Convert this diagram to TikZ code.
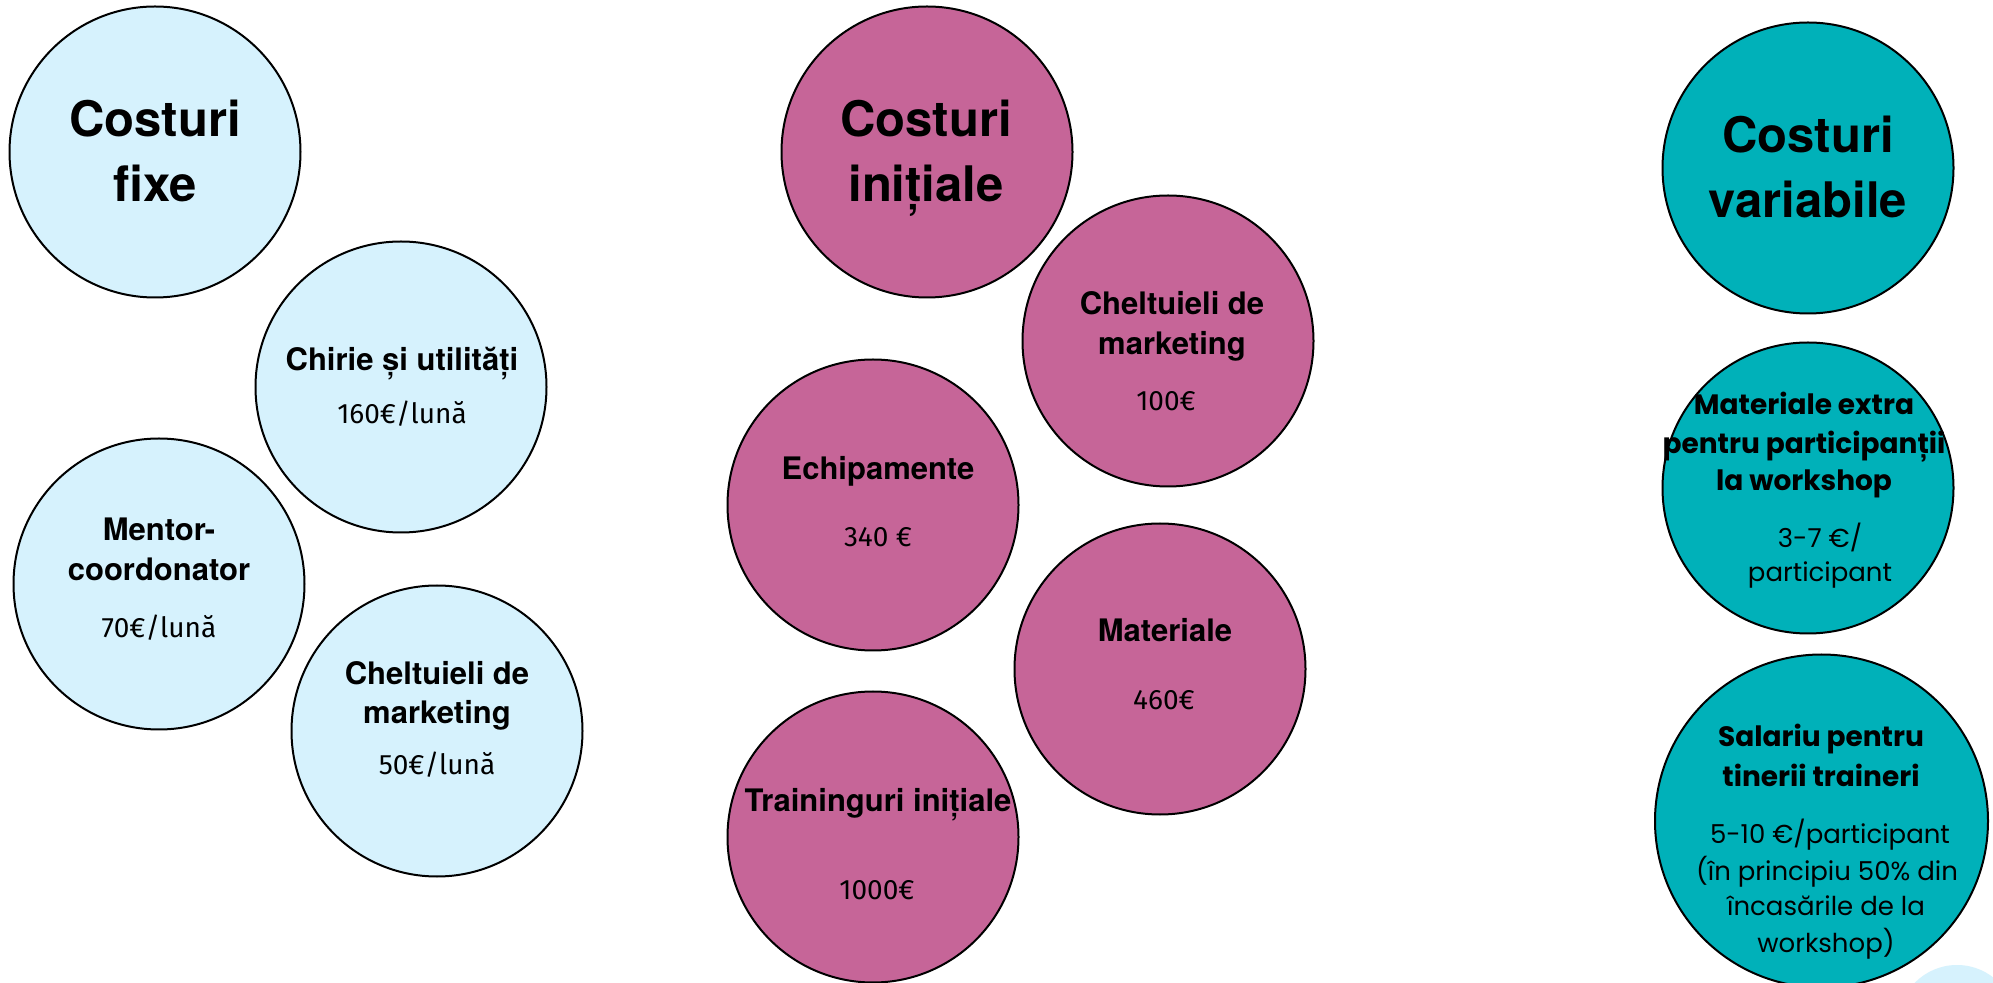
\documentclass[tikz,border=0pt]{standalone}
\usepackage{fontspec}
\setmainfont{TeX Gyre Heros}
\newfontfamily\valfont{Fira Sans}
\newfontfamily\popfont{Poppins}
\definecolor{clblue}{HTML}{D6F2FD}
\definecolor{cpink}{HTML}{C66598}
\definecolor{cteal}{HTML}{00B1B9}
\tikzset{
  bub/.style={circle, draw=black, line width=1pt, inner sep=0pt, minimum size=#1},
  bub/.default=145.5pt,
  ttl/.style={font=\bfseries\fontsize{24.5}{24.5}\selectfont, anchor=base, inner sep=0pt},
  lbl/.style={font=\bfseries\fontsize{15.5}{15.5}\selectfont, anchor=base, inner sep=0pt},
  val/.style={font=\valfont\fontsize{14}{14}\selectfont, anchor=base, inner sep=0pt},
  plbl/.style={font=\popfont\bfseries\fontsize{14}{14}\selectfont, anchor=base, inner sep=0pt},
  pval/.style={font=\popfont\fontsize{13}{13}\selectfont, anchor=base, inner sep=0pt},
}
\begin{document}
\begin{tikzpicture}[x=0.5pt,y=-0.5pt]
\useasboundingbox (0,0) rectangle (1993,983);
\clip (0,0) rectangle (1993,983);
\fill[white] (0,0) rectangle (1993,983);

% ---------- Costuri fixe (light blue) ----------
\node[bub, fill=clblue] (cf) at (155,152) {};
\node[ttl] (cft1) at (155,137) {Costuri};
\node[ttl] (cft2) at (155,202) {fixe};

\node[bub, fill=clblue] (ch) at (401,387) {};
\node[lbl] (cht) at (402,371) {Chirie și utilități};
\node[val] (chv) at (402,424) {160€/lună};

\node[bub, fill=clblue] (mc) at (159,584) {};
\node[lbl] (mct1) at (159,541) {Mentor-};
\node[lbl] (mct2) at (159,581) {coordonator};
\node[val] (mcv) at (159,638) {70€/lună};

\node[bub, fill=clblue] (cm) at (437,731) {};
\node[lbl] (cmt1) at (437,685) {Cheltuieli de};
\node[lbl] (cmt2) at (437,724) {marketing};
\node[val] (cmv) at (437,775) {50€/lună};

% ---------- Costuri inițiale (pink) ----------
\node[bub, fill=cpink] (ci) at (927,152) {};
\node[ttl] (cit1) at (926,137) {Costuri};
\node[ttl] (cit2) at (926,202) {inițiale};

\node[bub, fill=cpink] (pm) at (1168,341) {};
\node[lbl] (pmt1) at (1172,315) {Cheltuieli de};
\node[lbl] (pmt2) at (1172,355) {marketing};
\node[val] (pmv) at (1166,411) {100€};

\node[bub, fill=cpink] (ec) at (873,505) {};
\node[lbl] (ect) at (878,480) {Echipamente};
\node[val] (ecv) at (878,547) {340 €};

\node[bub, fill=cpink] (ma) at (1160,669) {};
\node[lbl] (mat) at (1165,642) {Materiale};
\node[val] (mav) at (1164,710) {460€};

\node[bub, fill=cpink] (tr) at (873,837) {};
\node[lbl] (trt) at (878,812) {Traininguri inițiale};
\node[val] (trv) at (877,899) {1000€};

% ---------- Costuri variabile (teal) ----------
\node[bub, fill=cteal] (cv) at (1808,168) {};
\node[ttl] (cvt1) at (1808,153) {Costuri};
\node[ttl] (cvt2) at (1808,218) {variabile};

\node[bub, fill=cteal] (me) at (1808,488) {};
\node[plbl] (met1) at (1804,415) {Materiale extra};
\node[plbl] (met2) at (1804,454) {pentru participanții};
\node[plbl] (met3) at (1804,491) {la workshop};
\node[pval] (mev1) at (1820,548) {3-7 €/};
\node[pval] (mev2) at (1820,582) {participant};

\node[bub=166.5pt, fill=cteal] (sa) at (1821.5,821) {};
\node[plbl] (sat1) at (1821,747) {Salariu pentru};
\node[plbl] (sat2) at (1821,786) {tinerii traineri};
\node[pval] (sav1) at (1830,843) {5-10 €/participant};
\node[pval] (sav2) at (1827,880) {(în principiu 50\% din};
\node[pval] (sav3) at (1826,915) {încasările de la};
\node[pval] (sav4) at (1826,952) {workshop)};

% partial light-blue circle in the corner
\node[circle, fill=clblue, inner sep=0pt, minimum size=59pt] (corner) at (1957,1024) {};
\end{tikzpicture}
\end{document}
